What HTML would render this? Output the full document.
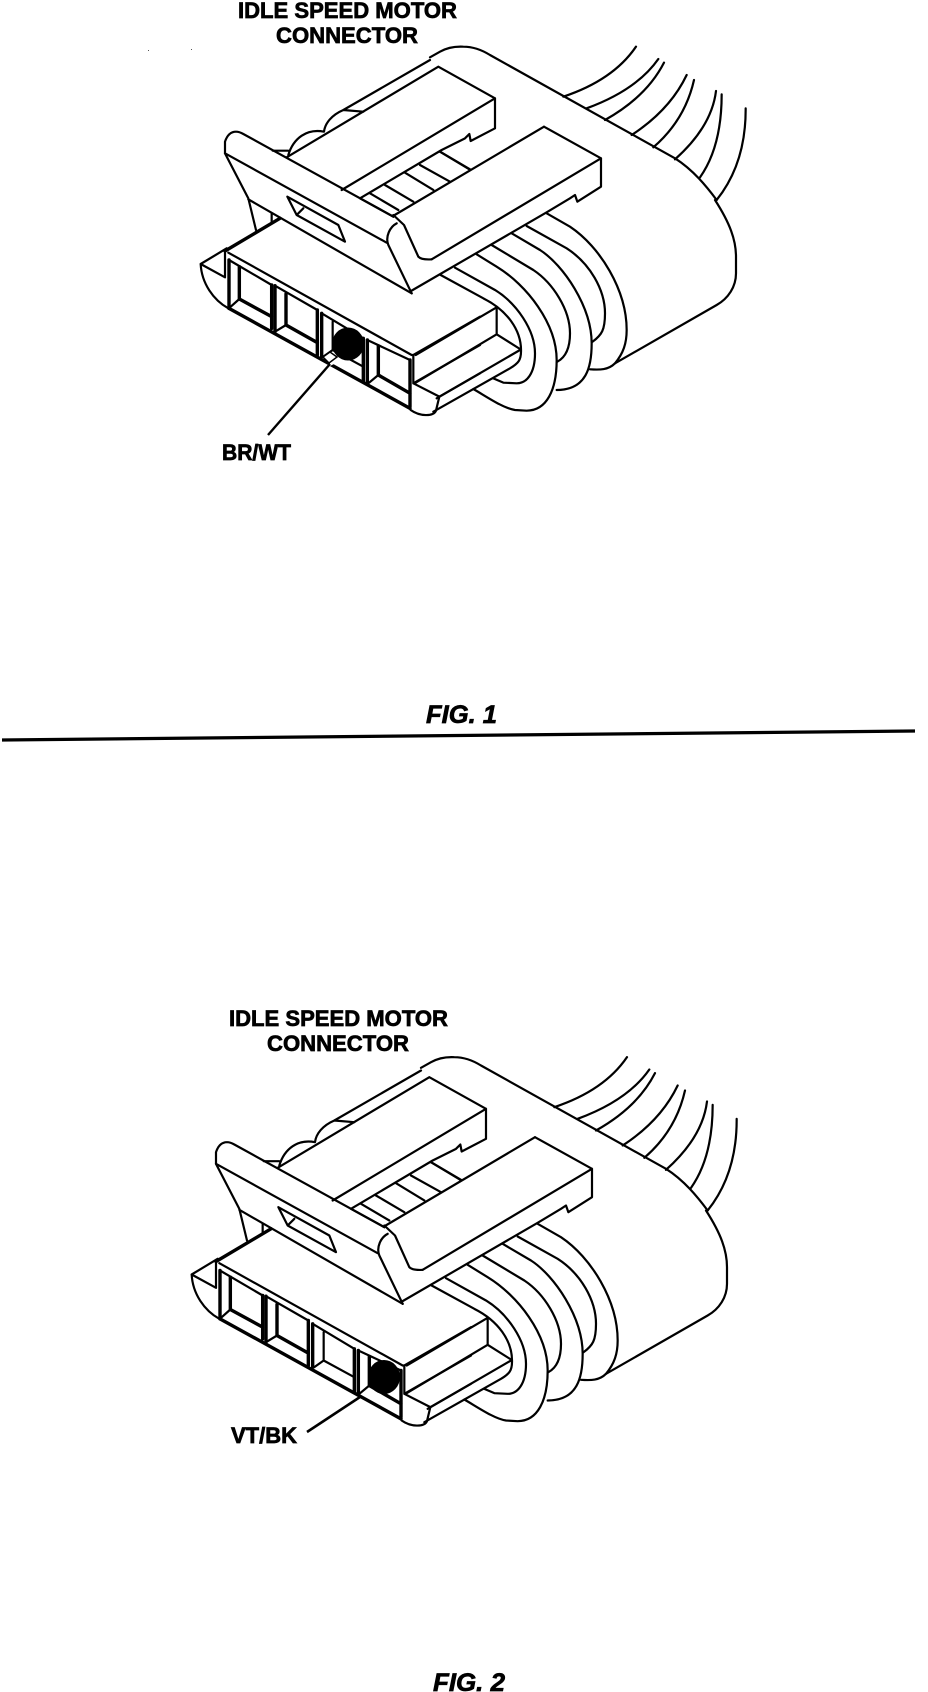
<!DOCTYPE html>
<html><head><meta charset="utf-8"><style>
html,body{margin:0;padding:0;background:#fff}
svg{display:block}
path,line,ellipse{vector-effect:non-scaling-stroke}
.l path{fill:none;stroke:#000;stroke-width:2.2;stroke-linejoin:round;stroke-linecap:round}
.l path.t{stroke-width:3.4}
text{font-family:"Liberation Sans",sans-serif;font-weight:700;fill:#000;stroke:#000;stroke-width:.7}
</style></head><body>
<svg width="928" height="1692" viewBox="0 0 928 1692" xmlns="http://www.w3.org/2000/svg">
<defs>
<g id="conn" class="l">
  <!-- upper-left region -->
  <g transform="translate(200,60) scale(.33333)">
    <path d="M690,0 L430,150 L490,155 M430,150 C395,165 375,190 372,215 C320,205 280,235 265,285 M218,272 L265,272"/>
    <path d="M260,292 L715,20 L885,115 L885,205 L812,243 L808,222 L795,235 L725,270 L480,415 L580,470 M885,115 L425,390"/>
    <path d="M720,275 L808,328 M660,315 L750,365 M615,338 L700,390 M555,375 L640,425 M510,400 L595,450"/>
    <path d="M580,465 L612,495 L655,590 Q665,600 695,598"/>
    <path d="M590,490 C570,500 555,530 565,555 L635,700"/>
    <path d="M580,470 L130,222 Q118,215 108,215 Q85,215 75,245 L75,280 L560,548"/>
    <path d="M75,280 L145,415 L168,510 M145,418 L635,700"/>
    <path d="M262,410 L415,495 L435,545 L290,465 Z M310,445 L290,465"/>
    <path d="M215,460 L215,490"/>
    <path class="t" d="M240,475 L75,573"/>
  </g>
  <!-- upper-right region -->
  <g transform="translate(440,40) scale(.33333)">
    <path d="M-30,52 L0,35 Q30,18 70,20 Q110,20 150,45 L705,355 C760,390 800,440 830,480"/>
    <path d="M312,260 L483,355 L483,440 L412,485 L405,465 L390,475 L320,517 L-87,753 M312,260 L-141,528 M483,355 L-25,658 M0,335 L90,388"/>
    <path d="M370,170 Q520,120 588,20 M440,205 Q590,150 655,57 M495,240 Q620,170 672,68 M575,285 Q690,210 740,105 M640,322 Q735,240 762,120 M705,358 Q815,260 828,153 M780,412 Q845,320 845,163 M830,480 Q918,370 917,205"/>
  </g>
  <!-- wire loops -->
  <g transform="translate(420,200) scale(.33333)">
    <path d="M380,40 L450,80 C540,140 620,270 620,390 C620,430 610,460 585,490 C565,510 540,510 510,508"/>
    <path d="M320,78 L440,145 C510,190 555,270 555,340 C555,390 545,405 518,425"/>
    <path d="M275,100 L360,150 C430,195 515,320 515,430 C515,500 500,570 410,570"/>
    <path d="M215,135 L340,210 C400,250 450,330 450,400 C450,440 440,470 412,485"/>
    <path d="M170,163 L230,200 C320,255 410,370 410,480 C410,570 380,632 320,632 L285,630 C250,625 200,590 160,567"/>
    <path d="M105,203 L225,270 C290,310 345,390 345,460 C345,520 320,550 290,550 L250,548 L220,535"/>
    <path d="M62,225 L190,295 C260,330 305,390 303,455 C303,480 295,490 270,505 L40,635"/>
    <path d="M230,322 L230,403 L300,447 M300,450 L50,595 M230,322 L-13,465 M230,403 L-13,548 M885,0 C930,70 948,120 948,170 L948,220 C948,260 925,295 890,315 L585,490"/>
  </g>
  <!-- plug face -->
  <g transform="translate(180,220) scale(.33333)">
    <path d="M62,132 L140,85 M62,132 L135,172 L135,90 M62,132 C65,190 100,240 145,265"/>
    <path d="M145,98 L695,405 L700,405 L700,490 L778,530 L768,572 M700,405 L900,290 M700,490 L900,375 M778,530 L900,460 M692,570 C720,590 760,590 768,572"/>
    <path class="t" d="M147,265 L690,565"/>
    <path class="t" d="M147,120 L147,265 M178,140 L178,237 L275,290 M275,195 L275,325"/>
    <path d="M147,120 L275,195 M178,237 L150,262"/>
    <path class="t" d="M285,197 L285,335 M318,222 L318,315 L412,368 M412,270 L412,405"/>
    <path d="M285,197 L412,270 M318,315 L290,332"/>
    <path class="t" d="M425,280 L425,410 M550,355 L550,485 M562,360 L562,490 M690,420 L690,560 M595,378 L595,465 L690,520"/>
    <path d="M425,280 L550,355 M562,360 L690,420 M595,465 L565,490 M458,305 L458,390 L550,440 M458,390 L430,410"/>
  </g>
</g>
</defs>

<text x="238" y="18" font-size="22" textLength="219" lengthAdjust="spacingAndGlyphs">IDLE SPEED MOTOR</text>
<text x="276" y="43" font-size="22" textLength="142" lengthAdjust="spacingAndGlyphs">CONNECTOR</text>
<use href="#conn"/>
<path d="M330,356 L340,352 L338,362 L330,366 Z" fill="#fff"/>
<ellipse cx="348" cy="344" rx="16" ry="16.5" fill="#000"/>
<path d="M330,364 L268,435" stroke="#000" stroke-width="2.4" fill="none"/>
<path d="M323,357 L330,352 L337,357 L329,363 Z" fill="#fff" stroke="#000" stroke-width="1.5"/>
<text x="222" y="460" font-size="22" textLength="69" lengthAdjust="spacingAndGlyphs">BR/WT</text>
<rect x="148" y="50" width="1" height="1" fill="#555"/><rect x="191" y="49" width="1" height="1" fill="#555"/>
<text x="426" y="723" font-size="25" font-style="italic" textLength="71" lengthAdjust="spacingAndGlyphs">FIG. 1</text>
<path d="M2,740 L915,731" stroke="#000" stroke-width="3.2" fill="none"/>

<text x="229" y="1026" font-size="22" textLength="219" lengthAdjust="spacingAndGlyphs">IDLE SPEED MOTOR</text>
<text x="267" y="1051" font-size="22" textLength="142" lengthAdjust="spacingAndGlyphs">CONNECTOR</text>
<g transform="translate(-9,1010.5)"><use href="#conn"/></g>
<ellipse cx="384" cy="1377" rx="16" ry="17" fill="#000"/>
<path d="M360,1397 L307,1432" stroke="#000" stroke-width="2.6" fill="none"/>
<text x="231" y="1443" font-size="22" textLength="66" lengthAdjust="spacingAndGlyphs">VT/BK</text>
<text x="433" y="1691" font-size="25" font-style="italic" textLength="72" lengthAdjust="spacingAndGlyphs">FIG. 2</text>
</svg>
</body></html>
